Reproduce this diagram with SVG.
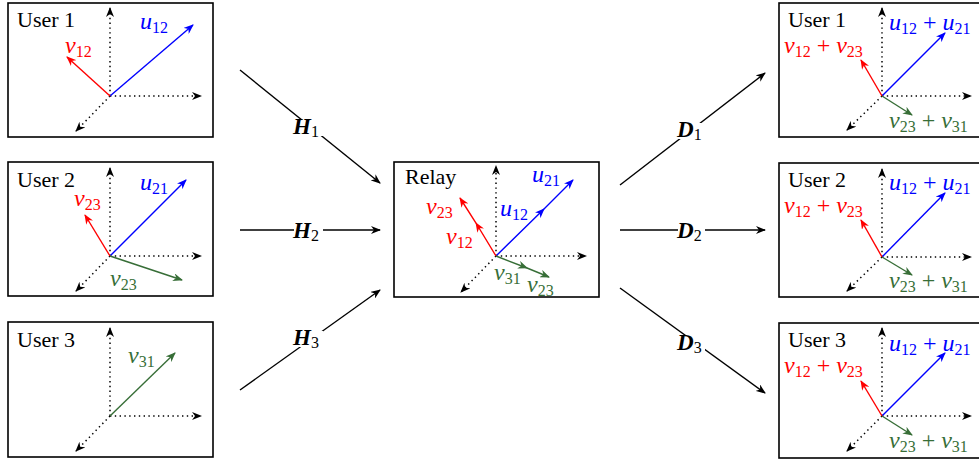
<svg xmlns="http://www.w3.org/2000/svg" width="979" height="464" viewBox="0 0 979 464">
<style>
.box{fill:#fff;stroke:#000;stroke-width:1.6}
.ax{fill:none;stroke:#000;stroke-width:1.5;stroke-dasharray:1.4 3.4;marker-end:url(#ak)}
.vb{fill:none;stroke:#0000ff;stroke-width:1.4;marker-end:url(#ab)}
.vr{fill:none;stroke:#ff0000;stroke-width:1.4;marker-end:url(#ar)}
.vg{fill:none;stroke:#376e37;stroke-width:1.4;marker-end:url(#ag)}
.mb{marker-mid:url(#ab)}.mr{marker-mid:url(#ar)}.mg{marker-mid:url(#ag)}
.con{fill:none;stroke:#000;stroke-width:1.4;marker-end:url(#ak)}
text{font-family:'Liberation Serif','Times New Roman',serif}
.t{font-size:22px;fill:#000}
.m{font-size:24px}
.i{font-style:italic}
.s{font-size:16px}
.b{font-size:23px;font-weight:bold;font-style:italic;fill:#000}
.n{font-weight:normal;font-style:normal}
.cb{fill:#0000ff}.cr{fill:#ff0000}.cg{fill:#376e37}
</style>
<defs>
<marker id="ak" viewBox="0 0 10 8" refX="9" refY="4" markerWidth="10" markerHeight="8" markerUnits="userSpaceOnUse" orient="auto"><path d="M0,0 L10,4 L0,8 L3,4 z" fill="#000"/></marker>
<marker id="ab" viewBox="0 0 10 8" refX="9" refY="4" markerWidth="10" markerHeight="8" markerUnits="userSpaceOnUse" orient="auto"><path d="M0,0 L10,4 L0,8 L3,4 z" fill="#0000ff"/></marker>
<marker id="ar" viewBox="0 0 10 8" refX="9" refY="4" markerWidth="10" markerHeight="8" markerUnits="userSpaceOnUse" orient="auto"><path d="M0,0 L10,4 L0,8 L3,4 z" fill="#ff0000"/></marker>
<marker id="ag" viewBox="0 0 10 8" refX="9" refY="4" markerWidth="10" markerHeight="8" markerUnits="userSpaceOnUse" orient="auto"><path d="M0,0 L10,4 L0,8 L3,4 z" fill="#376e37"/></marker>
</defs>
<rect width="979" height="464" fill="#fff"/>
<g id="connectors">
<line class="con" x1="240" y1="70" x2="380" y2="183"/>
<line class="con" x1="240" y1="230" x2="380" y2="230"/>
<line class="con" x1="240" y1="390" x2="380" y2="290"/>
<line class="con" x1="620" y1="185" x2="765" y2="73"/>
<line class="con" x1="620" y1="230" x2="765" y2="230"/>
<line class="con" x1="620" y1="288" x2="765" y2="393"/>
<rect x="294" y="120" width="29" height="16" fill="#fff"/>
<text class="b" x="293" y="134">H<tspan class="s n" dy="3">1</tspan></text>
<rect x="294" y="224" width="29" height="16" fill="#fff"/>
<text class="b" x="293" y="238">H<tspan class="s n" dy="3">2</tspan></text>
<rect x="294" y="331" width="29" height="16" fill="#fff"/>
<text class="b" x="293" y="345">H<tspan class="s n" dy="3">3</tspan></text>
<rect x="678" y="123" width="27" height="16" fill="#fff"/>
<text class="b" x="677" y="137">D<tspan class="s n" dy="3">1</tspan></text>
<rect x="678" y="224" width="27" height="16" fill="#fff"/>
<text class="b" x="677" y="238">D<tspan class="s n" dy="3">2</tspan></text>
<rect x="678" y="336" width="27" height="16" fill="#fff"/>
<text class="b" x="677" y="350">D<tspan class="s n" dy="3">3</tspan></text>
</g>

<g id="user1">
<rect class="box" x="8" y="3" width="205" height="134"/>
<text class="t" x="17" y="27">User 1</text>
<line class="ax" x1="110" y1="96" x2="110" y2="8"/>
<line class="ax" x1="110" y1="96" x2="201" y2="96"/>
<line class="ax" x1="110" y1="96" x2="76" y2="131"/>
<line class="vb" x1="110" y1="96" x2="193" y2="25"/>
<line class="vr" x1="110" y1="96" x2="67" y2="57"/>
<text class="m cb" x="140" y="29"><tspan class="i">u</tspan><tspan class="s" dy="4">12</tspan></text>
<text class="m cr" x="65" y="53"><tspan class="i">v</tspan><tspan class="s" dy="4">12</tspan></text>
</g>

<g id="user2">
<rect class="box" x="8" y="162" width="205" height="134"/>
<text class="t" x="17" y="187">User 2</text>
<line class="ax" x1="110" y1="256" x2="110" y2="168"/>
<line class="ax" x1="110" y1="256" x2="201" y2="256"/>
<line class="ax" x1="110" y1="256" x2="76" y2="291"/>
<line class="vb" x1="110" y1="256" x2="186" y2="180"/>
<line class="vr" x1="110" y1="256" x2="85" y2="215"/>
<line class="vg" x1="110" y1="256" x2="182" y2="280"/>
<text class="m cb" x="140" y="190"><tspan class="i">u</tspan><tspan class="s" dy="4">21</tspan></text>
<text class="m cr" x="74" y="206"><tspan class="i">v</tspan><tspan class="s" dy="4">23</tspan></text>
<text class="m cg" x="110" y="286"><tspan class="i">v</tspan><tspan class="s" dy="4">23</tspan></text>
</g>

<g id="user3">
<rect class="box" x="8" y="322" width="205" height="135"/>
<text class="t" x="17" y="347">User 3</text>
<line class="ax" x1="110" y1="416" x2="110" y2="328"/>
<line class="ax" x1="110" y1="416" x2="201" y2="416"/>
<line class="ax" x1="110" y1="416" x2="76" y2="451"/>
<line class="vg" x1="110" y1="416" x2="175" y2="353"/>
<text class="m cg" x="128" y="363"><tspan class="i">v</tspan><tspan class="s" dy="4">31</tspan></text>
</g>

<g id="relay">
<rect class="box" x="394" y="162" width="205" height="135"/>
<text class="t" x="405" y="184">Relay</text>
<line class="ax" x1="496" y1="256" x2="496" y2="166"/>
<line class="ax" x1="496" y1="256" x2="586" y2="256"/>
<line class="ax" x1="496" y1="256" x2="461" y2="292"/>
<polyline class="vb mb" points="496,256 544,209 573,180"/>
<polyline class="vr mr" points="496,256 476,223 460,198"/>
<polyline class="vg mg" points="496,256 527,268 549,277"/>
<text class="m cb" x="532" y="182"><tspan class="i">u</tspan><tspan class="s" dy="4">21</tspan></text>
<text class="m cb" x="500" y="216"><tspan class="i">u</tspan><tspan class="s" dy="4">12</tspan></text>
<text class="m cr" x="426" y="214"><tspan class="i">v</tspan><tspan class="s" dy="4">23</tspan></text>
<text class="m cr" x="446" y="244"><tspan class="i">v</tspan><tspan class="s" dy="4">12</tspan></text>
<text class="m cg" x="494" y="280"><tspan class="i">v</tspan><tspan class="s" dy="4">31</tspan></text>
<text class="m cg" x="527" y="292"><tspan class="i">v</tspan><tspan class="s" dy="4">23</tspan></text>
</g>

<g id="out1">
<rect class="box" x="779" y="3" width="215" height="134"/>
<text class="t" x="788" y="27">User 1</text>
<line class="ax" x1="882" y1="96" x2="882" y2="8"/>
<line class="ax" x1="882" y1="96" x2="971" y2="96"/>
<line class="ax" x1="882" y1="96" x2="847" y2="130"/>
<line class="vb" x1="882" y1="96" x2="945" y2="33"/>
<line class="vr" x1="882" y1="96" x2="861" y2="60"/>
<line class="vg" x1="882" y1="96" x2="912" y2="115"/>
<text class="m cb" x="889" y="30"><tspan class="i">u</tspan><tspan class="s" dy="4">12</tspan><tspan dy="-4"> + </tspan><tspan class="i">u</tspan><tspan class="s" dy="4">21</tspan></text>
<text class="m cr" x="784" y="53"><tspan class="i">v</tspan><tspan class="s" dy="4">12</tspan><tspan dy="-4"> + </tspan><tspan class="i">v</tspan><tspan class="s" dy="4">23</tspan></text>
<text class="m cg" x="889" y="128"><tspan class="i">v</tspan><tspan class="s" dy="4">23</tspan><tspan dy="-4"> + </tspan><tspan class="i">v</tspan><tspan class="s" dy="4">31</tspan></text>
</g>

<g id="out2">
<rect class="box" x="779" y="163" width="215" height="134"/>
<text class="t" x="788" y="187">User 2</text>
<line class="ax" x1="882" y1="257" x2="882" y2="169"/>
<line class="ax" x1="882" y1="257" x2="971" y2="257"/>
<line class="ax" x1="882" y1="257" x2="847" y2="291"/>
<line class="vb" x1="882" y1="257" x2="945" y2="193"/>
<line class="vr" x1="882" y1="257" x2="861" y2="220"/>
<line class="vg" x1="882" y1="257" x2="912" y2="275"/>
<text class="m cb" x="889" y="190"><tspan class="i">u</tspan><tspan class="s" dy="4">12</tspan><tspan dy="-4"> + </tspan><tspan class="i">u</tspan><tspan class="s" dy="4">21</tspan></text>
<text class="m cr" x="784" y="213"><tspan class="i">v</tspan><tspan class="s" dy="4">12</tspan><tspan dy="-4"> + </tspan><tspan class="i">v</tspan><tspan class="s" dy="4">23</tspan></text>
<text class="m cg" x="889" y="288"><tspan class="i">v</tspan><tspan class="s" dy="4">23</tspan><tspan dy="-4"> + </tspan><tspan class="i">v</tspan><tspan class="s" dy="4">31</tspan></text>
</g>

<g id="out3">
<rect class="box" x="779" y="323" width="215" height="135"/>
<text class="t" x="788" y="347">User 3</text>
<line class="ax" x1="882" y1="416" x2="882" y2="328"/>
<line class="ax" x1="882" y1="416" x2="971" y2="416"/>
<line class="ax" x1="882" y1="416" x2="847" y2="451"/>
<line class="vb" x1="882" y1="416" x2="945" y2="353"/>
<line class="vr" x1="882" y1="416" x2="861" y2="381"/>
<line class="vg" x1="882" y1="416" x2="912" y2="435"/>
<text class="m cb" x="889" y="351"><tspan class="i">u</tspan><tspan class="s" dy="4">12</tspan><tspan dy="-4"> + </tspan><tspan class="i">u</tspan><tspan class="s" dy="4">21</tspan></text>
<text class="m cr" x="784" y="373"><tspan class="i">v</tspan><tspan class="s" dy="4">12</tspan><tspan dy="-4"> + </tspan><tspan class="i">v</tspan><tspan class="s" dy="4">23</tspan></text>
<text class="m cg" x="889" y="448"><tspan class="i">v</tspan><tspan class="s" dy="4">23</tspan><tspan dy="-4"> + </tspan><tspan class="i">v</tspan><tspan class="s" dy="4">31</tspan></text>
</g>
</svg>
